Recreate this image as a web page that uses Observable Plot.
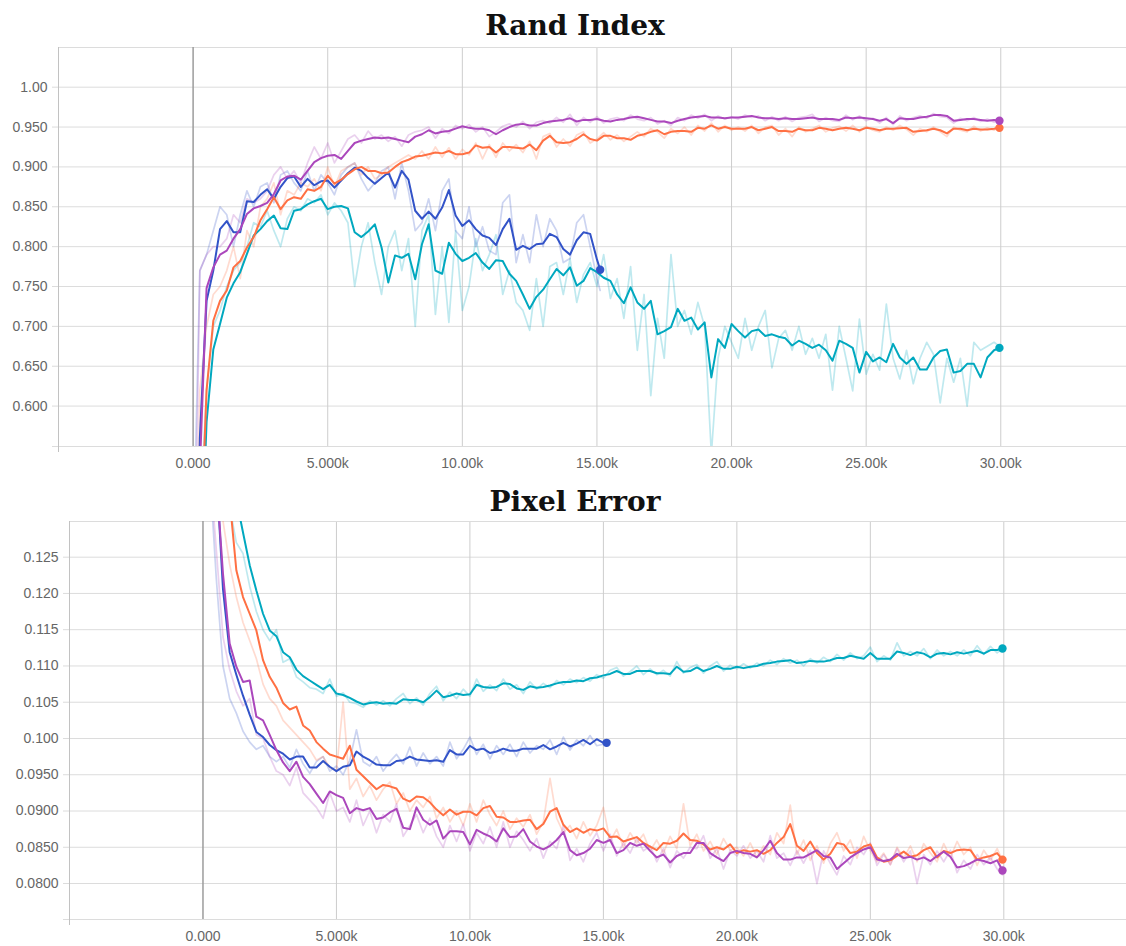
<!DOCTYPE html>
<html><head><meta charset="utf-8">
<script src="https://cdn.jsdelivr.net/npm/d3@7"></script>
<script src="https://cdn.jsdelivr.net/npm/@observablehq/plot@0.6"></script>
<style>
body{margin:0;background:#fff;width:1126px;height:946px;position:relative;overflow:hidden}
.title{position:absolute;left:0;width:1150px;text-align:center;font-family:"DejaVu Serif",serif;font-weight:bold;font-size:28px;line-height:28px;color:#111;z-index:2}
.chart{position:absolute;left:0;z-index:1}
</style></head><body>
<div class="chart" id="c1" style="top:0px"></div>
<div class="chart" id="c2" style="top:474px"></div>
<div class="title" style="top:12px">Rand Index</div>
<div class="title" style="top:488px">Pixel Error</div>
<script>
// ---------- shared step axis ----------
const steps = [
  100, 250, 500, 750, 1000, 1250, 1500, 1750, 2000, 2250,
  2500, 2750, 3000, 3250, 3500, 3750, 4000, 4250, 4500, 4750,
  5000, 5250, 5500, 5750, 6000, 6250, 6500, 6750, 7000, 7250,
  7500, 7750, 8000, 8250, 8500, 8750, 9000, 9250, 9500, 9750,
  10000, 10250, 10500, 10750, 11000, 11250, 11500, 11750, 12000, 12250,
  12500, 12750, 13000, 13250, 13500, 13750, 14000, 14250, 14500, 14750,
  15000, 15250, 15500, 15750, 16000, 16250, 16500, 16750, 17000, 17250,
  17500, 17750, 18000, 18250, 18500, 18750, 19000, 19250, 19500, 19750,
  20000, 20250, 20500, 20750, 21000, 21250, 21500, 21750, 22000, 22250,
  22500, 22750, 23000, 23250, 23500, 23750, 24000, 24250, 24500, 24750,
  25000, 25250, 25500, 25750, 26000, 26250, 26500, 26750, 27000, 27250,
  27500, 27750, 28000, 28250, 28500, 28750, 29000, 29250, 29500, 29750,
  29950
];
const blueEndStep = 15120;
const xTicks = [0, 5000, 10000, 15000, 20000, 25000, 30000];
const xTickLabels = ["0.000", "5.000k", "10.00k", "15.00k", "20.00k", "25.00k", "30.00k"];

// ---------- Rand Index ----------
const riYTicks = [0.6, 0.65, 0.7, 0.75, 0.8, 0.85, 0.9, 0.95, 1.0];
const riYLabels = ["0.600", "0.650", "0.700", "0.750", "0.800", "0.850", "0.900", "0.950", "1.00"];

const riPurple = [
  0.30, 0.52, 0.748, 0.774, 0.790, 0.795, 0.810, 0.822, 0.841, 0.848,
  0.851, 0.855, 0.866, 0.883, 0.888, 0.889, 0.884, 0.895, 0.906, 0.911,
  0.914, 0.915, 0.910, 0.920, 0.930, 0.933, 0.935, 0.937, 0.936, 0.937,
  0.935, 0.933, 0.931, 0.938, 0.941, 0.946, 0.942, 0.944, 0.945, 0.948,
  0.951, 0.949, 0.948, 0.948, 0.946, 0.941, 0.946, 0.950, 0.953, 0.954,
  0.952, 0.952, 0.955, 0.957, 0.958, 0.959, 0.961, 0.957, 0.959, 0.959,
  0.960, 0.958, 0.957, 0.959, 0.960, 0.962, 0.963, 0.961, 0.959, 0.957,
  0.957, 0.955, 0.958, 0.960, 0.962, 0.963, 0.964, 0.962, 0.962, 0.961,
  0.962, 0.962, 0.963, 0.964, 0.962, 0.961, 0.961, 0.960, 0.961, 0.960,
  0.960, 0.961, 0.962, 0.960, 0.960, 0.960, 0.959, 0.962, 0.961, 0.962,
  0.961, 0.960, 0.958, 0.960, 0.955, 0.961, 0.960, 0.960, 0.962, 0.963,
  0.965, 0.965, 0.964, 0.958, 0.959, 0.960, 0.960, 0.959, 0.958, 0.959,
  0.958
];
const riPurpleRaw = [
  0.45, 0.77, 0.79, 0.80, 0.80, 0.81, 0.84, 0.83, 0.86, 0.855,
  0.86, 0.87, 0.89, 0.90, 0.885, 0.895, 0.88, 0.905, 0.925, 0.91,
  0.93, 0.905, 0.92, 0.935, 0.94, 0.93, 0.945, 0.935, 0.94, 0.932,
  0.938, 0.926, 0.94, 0.944, 0.946, 0.95, 0.936, 0.948, 0.942, 0.952,
  0.948, 0.953, 0.944, 0.950, 0.938, 0.944, 0.951, 0.954, 0.950, 0.957,
  0.948, 0.956, 0.958, 0.955, 0.962, 0.956, 0.966, 0.952, 0.962, 0.956,
  0.963, 0.955, 0.960, 0.962, 0.958, 0.965, 0.960, 0.958, 0.962, 0.954,
  0.958, 0.952, 0.962, 0.958, 0.965, 0.961, 0.966, 0.958, 0.964, 0.960,
  0.963, 0.960, 0.965, 0.962, 0.964, 0.958, 0.963, 0.958, 0.963, 0.957,
  0.962, 0.963, 0.966, 0.957, 0.962, 0.958, 0.957, 0.965, 0.959, 0.964,
  0.958, 0.961, 0.955, 0.962, 0.953, 0.964, 0.958, 0.962, 0.964, 0.961,
  0.967, 0.963, 0.962, 0.955, 0.961, 0.958, 0.962, 0.957, 0.960, 0.956,
  0.958
];
const riOrange = [
  0.25, 0.40, 0.62, 0.707, 0.732, 0.745, 0.774, 0.782, 0.799, 0.812,
  0.833, 0.847, 0.862, 0.847, 0.858, 0.862, 0.860, 0.872, 0.870, 0.875,
  0.889, 0.879, 0.884, 0.891, 0.897, 0.900, 0.895, 0.895, 0.892, 0.893,
  0.900, 0.906, 0.909, 0.913, 0.914, 0.916, 0.918, 0.917, 0.920, 0.916,
  0.916, 0.918, 0.927, 0.924, 0.925, 0.918, 0.925, 0.925, 0.924, 0.923,
  0.928, 0.921, 0.933, 0.939, 0.931, 0.930, 0.931, 0.935, 0.941, 0.935,
  0.933, 0.939, 0.939, 0.936, 0.936, 0.934, 0.939, 0.941, 0.944, 0.946,
  0.941, 0.944, 0.945, 0.945, 0.944, 0.949, 0.948, 0.952, 0.948, 0.950,
  0.948, 0.948, 0.948, 0.950, 0.946, 0.948, 0.950, 0.945, 0.945, 0.944,
  0.948, 0.946, 0.946, 0.949, 0.948, 0.946, 0.948, 0.949, 0.948, 0.946,
  0.949, 0.948, 0.946, 0.948, 0.948, 0.9485, 0.949, 0.944, 0.945, 0.946,
  0.948, 0.946, 0.942, 0.948, 0.948, 0.946, 0.948, 0.947, 0.947, 0.948,
  0.949
];
const riOrangeRaw = [
  0.30, 0.62, 0.70, 0.74, 0.75, 0.77, 0.80, 0.76, 0.82, 0.80,
  0.85, 0.86, 0.88, 0.84, 0.87, 0.865, 0.88, 0.875, 0.885, 0.87,
  0.90, 0.875, 0.895, 0.90, 0.905, 0.89, 0.90, 0.885, 0.89, 0.90,
  0.905, 0.91, 0.915, 0.91, 0.92, 0.91, 0.925, 0.912, 0.924, 0.91,
  0.922, 0.915, 0.93, 0.91, 0.928, 0.912, 0.93, 0.92, 0.928, 0.918,
  0.932, 0.91, 0.938, 0.942, 0.925, 0.935, 0.926, 0.94, 0.944, 0.93,
  0.935, 0.943, 0.934, 0.94, 0.932, 0.938, 0.944, 0.938, 0.948, 0.944,
  0.936, 0.948, 0.942, 0.95, 0.94, 0.952, 0.945, 0.955, 0.944, 0.952,
  0.946, 0.95, 0.945, 0.952, 0.942, 0.95, 0.952, 0.94, 0.948, 0.938,
  0.95, 0.944, 0.948, 0.952, 0.944, 0.949, 0.951, 0.945, 0.952, 0.944,
  0.951, 0.946, 0.944, 0.95, 0.946, 0.952, 0.947, 0.940, 0.948, 0.944,
  0.95, 0.944, 0.938, 0.95, 0.946, 0.944, 0.951, 0.945, 0.949, 0.946,
  0.951
];
const riBlue = [
  0.30, 0.56, 0.732, 0.770, 0.822, 0.832, 0.818, 0.818, 0.857, 0.856,
  0.865, 0.872, 0.860, 0.875, 0.886, 0.888, 0.875, 0.885, 0.877, 0.882,
  0.883, 0.874, 0.883, 0.892, 0.899, 0.895, 0.886, 0.879, 0.886, 0.893,
  0.874, 0.895, 0.884, 0.845, 0.835, 0.844, 0.835, 0.849, 0.871, 0.839,
  0.826, 0.833, 0.822, 0.814, 0.811, 0.802, 0.822, 0.835, 0.796, 0.801,
  0.797, 0.803, 0.804, 0.816, 0.812, 0.797, 0.790, 0.808, 0.818, 0.816,
  0.784, 0.771
];
const riBlueRaw = [
  0.55, 0.77, 0.79, 0.82, 0.85, 0.84, 0.80, 0.84, 0.87, 0.85,
  0.875, 0.88, 0.855, 0.89, 0.895, 0.88, 0.87, 0.895, 0.87, 0.89,
  0.88, 0.865, 0.89, 0.90, 0.905, 0.885, 0.87, 0.88, 0.895, 0.90,
  0.86, 0.905, 0.87, 0.82, 0.83, 0.86, 0.82, 0.87, 0.885, 0.82,
  0.81, 0.85, 0.80, 0.825, 0.795, 0.79, 0.855, 0.865, 0.78, 0.815,
  0.78, 0.84, 0.80, 0.835, 0.82, 0.78, 0.785, 0.83, 0.84, 0.80,
  0.76, 0.745
];
const riTeal = [
  0.25, 0.35, 0.58, 0.671, 0.703, 0.736, 0.754, 0.768, 0.791, 0.814,
  0.822, 0.832, 0.839, 0.823, 0.822, 0.845, 0.847, 0.853, 0.857, 0.860,
  0.847, 0.850, 0.851, 0.848, 0.818, 0.812, 0.819, 0.828, 0.799, 0.755,
  0.789, 0.786, 0.791, 0.759, 0.803, 0.828, 0.770, 0.766, 0.805, 0.791,
  0.782, 0.786, 0.792, 0.780, 0.772, 0.783, 0.782, 0.766, 0.757, 0.740,
  0.722, 0.737, 0.746, 0.759, 0.772, 0.764, 0.774, 0.751, 0.757, 0.773,
  0.768, 0.761, 0.757, 0.740, 0.729, 0.749, 0.730, 0.722, 0.732, 0.690,
  0.694, 0.699, 0.722, 0.707, 0.711, 0.696, 0.705, 0.636, 0.684, 0.673,
  0.703, 0.694, 0.686, 0.694, 0.696, 0.688, 0.690, 0.687, 0.685, 0.676,
  0.682, 0.678, 0.673, 0.677, 0.670, 0.657, 0.682, 0.678, 0.673, 0.642,
  0.668, 0.656, 0.661, 0.655, 0.678, 0.661, 0.653, 0.661, 0.646, 0.646,
  0.661, 0.669, 0.671, 0.642, 0.644, 0.653, 0.653, 0.636, 0.661, 0.670,
  0.673
];
const riTealRaw = [
  0.35, 0.45, 0.62, 0.70, 0.72, 0.75, 0.77, 0.78, 0.80, 0.83,
  0.825, 0.845, 0.82, 0.80, 0.835, 0.85, 0.845, 0.86, 0.855, 0.865,
  0.84, 0.855, 0.845, 0.83, 0.75, 0.80, 0.83, 0.78, 0.74, 0.80,
  0.82, 0.77, 0.81, 0.70, 0.82, 0.84, 0.715, 0.80, 0.705, 0.82,
  0.72, 0.75, 0.81, 0.77, 0.79, 0.815, 0.74, 0.77, 0.73, 0.72,
  0.695, 0.76, 0.70, 0.775, 0.78, 0.74, 0.785, 0.73, 0.765, 0.78,
  0.75, 0.79, 0.735, 0.76, 0.71, 0.775, 0.67, 0.74, 0.613, 0.71,
  0.66, 0.79, 0.70, 0.72, 0.69, 0.73, 0.70, 0.54, 0.66, 0.70,
  0.68, 0.66, 0.71, 0.67, 0.70, 0.72, 0.648, 0.685, 0.695, 0.67,
  0.70, 0.665, 0.685, 0.66, 0.69, 0.62, 0.70, 0.66, 0.619, 0.709,
  0.64, 0.665, 0.645, 0.728, 0.66, 0.634, 0.67, 0.628, 0.66, 0.68,
  0.665, 0.604, 0.66, 0.63, 0.66, 0.60, 0.68, 0.67, 0.675, 0.68,
  0.675
];

// ---------- Pixel Error ----------
const peYTicks = [0.08, 0.085, 0.09, 0.095, 0.1, 0.105, 0.11, 0.115, 0.12, 0.125];
const peYLabels = ["0.0800", "0.0850", "0.0900", "0.0950", "0.100", "0.105", "0.110", "0.115", "0.120", "0.125"];

const pePurple = [
  0.160, 0.150, 0.136, 0.1227, 0.1131, 0.1099, 0.1078, 0.1080, 0.1030, 0.1025,
  0.1005, 0.0984, 0.0967, 0.0955, 0.0968, 0.0947, 0.0937, 0.0924, 0.0911, 0.0927,
  0.0922, 0.0918, 0.0897, 0.0904, 0.0901, 0.0904, 0.0889, 0.0891, 0.0898, 0.0903,
  0.0877, 0.0875, 0.0905, 0.0888, 0.0881, 0.0887, 0.0862, 0.0872, 0.0872, 0.0871,
  0.0854, 0.0874, 0.0869, 0.0865, 0.0858, 0.0876, 0.0864, 0.0865, 0.0875, 0.0858,
  0.0851, 0.0847, 0.0852, 0.0860, 0.0871, 0.0846, 0.0839, 0.0842, 0.0848, 0.0860,
  0.0856, 0.0860, 0.0842, 0.0846, 0.0856, 0.0852, 0.0855, 0.0845, 0.0836, 0.0840,
  0.0829, 0.0838, 0.0842, 0.0842, 0.0856, 0.0856, 0.0842, 0.0836, 0.0831, 0.0842,
  0.0845, 0.0842, 0.0841, 0.0836, 0.0846, 0.0859, 0.0842, 0.0833, 0.0833, 0.0836,
  0.0836, 0.0841, 0.0846, 0.0838, 0.0836, 0.0820, 0.0828, 0.0836, 0.0842, 0.0847,
  0.0850, 0.0833, 0.0831, 0.0833, 0.0841, 0.0835, 0.0837, 0.0833, 0.0836, 0.0831,
  0.0838, 0.0844, 0.0837, 0.0822, 0.0824, 0.0828, 0.0833, 0.0831, 0.0828, 0.0832,
  0.0818
];
const pePurpleRaw = [
  0.150, 0.138, 0.126, 0.114, 0.1095, 0.1065, 0.1045, 0.1055, 0.1005, 0.1000,
  0.0975, 0.0955, 0.0950, 0.0935, 0.0960, 0.0925, 0.0915, 0.0905, 0.0890, 0.0925,
  0.0900, 0.0905, 0.0885, 0.0915, 0.0880, 0.0900, 0.0870, 0.0895, 0.0885, 0.0910,
  0.0865, 0.0880, 0.0895, 0.0870, 0.0890, 0.0865, 0.0850, 0.0880, 0.0858, 0.0882,
  0.0845, 0.0870, 0.0855, 0.0878, 0.0850, 0.0885, 0.0850, 0.0872, 0.0860, 0.0845,
  0.0862, 0.0835, 0.0858, 0.0848, 0.0880, 0.0832, 0.0848, 0.0830, 0.0855, 0.0870,
  0.0845, 0.0868, 0.0838, 0.0856, 0.0842, 0.0862, 0.0845, 0.0852, 0.0830, 0.0848,
  0.0822, 0.0845, 0.0835, 0.0850, 0.0848, 0.0866, 0.0835, 0.0848, 0.0820, 0.0846,
  0.0838, 0.0852, 0.0835, 0.0845, 0.0830, 0.0866, 0.0835, 0.0842, 0.0825, 0.0845,
  0.0828, 0.0846, 0.0800, 0.0845, 0.0828, 0.0812, 0.0838, 0.0826, 0.0850, 0.0840,
  0.0856, 0.0825, 0.0840, 0.0826, 0.0848, 0.0830, 0.0845, 0.0800, 0.0840, 0.0826,
  0.0845, 0.0830, 0.0846, 0.0815, 0.0832, 0.0820, 0.0840, 0.0826, 0.0836, 0.0820,
  0.0812
];
const peOrange = [
  0.170, 0.160, 0.150, 0.140, 0.133, 0.1232, 0.1195, 0.1172, 0.1149, 0.1108,
  0.1085, 0.1070, 0.1049, 0.1040, 0.1044, 0.1018, 0.1011, 0.0995, 0.0986, 0.0978,
  0.0975, 0.0972, 0.0990, 0.0957, 0.0948, 0.0939, 0.0930, 0.0936, 0.0934, 0.0931,
  0.0917, 0.0913, 0.0920, 0.0919, 0.0912, 0.0902, 0.0894, 0.0902, 0.0895, 0.0899,
  0.0899, 0.0894, 0.0904, 0.0907, 0.0892, 0.0891, 0.0885, 0.0885, 0.0887, 0.0888,
  0.0875, 0.0882, 0.0899, 0.0904, 0.0881, 0.0871, 0.0876, 0.0870, 0.0875, 0.0873,
  0.0876, 0.0864, 0.0865, 0.0858, 0.0861, 0.0864, 0.0856, 0.0851, 0.0846, 0.0856,
  0.0855, 0.0859, 0.0869, 0.0860, 0.0859, 0.0854, 0.0847, 0.0850, 0.0847, 0.0854,
  0.0842, 0.0846, 0.0844, 0.0846, 0.0841, 0.0846, 0.0856, 0.0864, 0.0882, 0.0852,
  0.0845, 0.0858, 0.0842, 0.0833, 0.0841, 0.0856, 0.0854, 0.0842, 0.0844, 0.0851,
  0.0854, 0.0836, 0.0830, 0.0832, 0.0838, 0.0844, 0.0837, 0.0839, 0.0846, 0.0850,
  0.0836, 0.0845, 0.0842, 0.0846, 0.0847, 0.0846, 0.0833, 0.0836, 0.0838, 0.0842,
  0.0833
];
const peOrangeRaw = [
  0.160, 0.150, 0.140, 0.130, 0.124, 0.1195, 0.1160, 0.1135, 0.1110, 0.1075,
  0.1055, 0.1045, 0.1025, 0.1015, 0.1005, 0.0995, 0.0985, 0.0970, 0.0975, 0.0960,
  0.0955, 0.1050, 0.0930, 0.0945, 0.0920, 0.0935, 0.0915, 0.0930, 0.0940, 0.0910,
  0.0925, 0.0900, 0.0915, 0.0905, 0.0920, 0.0890, 0.0905, 0.0885, 0.0900, 0.0880,
  0.0910, 0.0885, 0.0915, 0.0895, 0.0880, 0.0900, 0.0875, 0.0890, 0.0878, 0.0895,
  0.0868, 0.0885, 0.0945, 0.0890, 0.0870, 0.0880, 0.0862, 0.0885, 0.0866, 0.0880,
  0.0905, 0.0858, 0.0875, 0.0850, 0.0870, 0.0856, 0.0868, 0.0845, 0.0860, 0.0842,
  0.0865, 0.0848, 0.0910, 0.0852, 0.0868, 0.0845, 0.0858, 0.0840, 0.0862, 0.0846,
  0.0850, 0.0838, 0.0856, 0.0836, 0.0852, 0.0840, 0.0870, 0.0855, 0.0908, 0.0840,
  0.0860, 0.0832, 0.0852, 0.0828, 0.0855, 0.0870, 0.0845, 0.0860, 0.0835, 0.0865,
  0.0845, 0.0830, 0.0842, 0.0826, 0.0850, 0.0835, 0.0852, 0.0830, 0.0855, 0.0842,
  0.0830, 0.0855, 0.0836, 0.0858, 0.0840, 0.0850, 0.0825, 0.0846, 0.0832, 0.0848,
  0.0832
];
const peBlue = [
  0.160, 0.150, 0.137, 0.1206, 0.1119, 0.1088, 0.1059, 0.1033, 0.1009, 0.1002,
  0.0991, 0.0984, 0.0979, 0.0971, 0.0975, 0.0975, 0.0960, 0.0960, 0.0969, 0.0961,
  0.0955, 0.0961, 0.0963, 0.0982, 0.0975, 0.0970, 0.0964, 0.0963, 0.0963, 0.0969,
  0.0970, 0.0975, 0.0971, 0.0970, 0.0969, 0.0970, 0.0968, 0.0984, 0.0978, 0.0978,
  0.0990, 0.0984, 0.0986, 0.0980, 0.0982, 0.0986, 0.0983, 0.0983, 0.0986, 0.0986,
  0.0986, 0.0991, 0.0985, 0.0989, 0.0994, 0.0989, 0.0993, 0.0998, 0.0992, 0.0999,
  0.0994, 0.0994
];
const peBlueRaw = [
  0.150, 0.137, 0.122, 0.110, 0.1055, 0.1035, 0.1010, 0.0995, 0.0985, 0.0990,
  0.0975, 0.0968, 0.0975, 0.0960, 0.0985, 0.0965, 0.0952, 0.0968, 0.0975, 0.0955,
  0.0962, 0.0950, 0.0970, 0.1012, 0.0968, 0.0962, 0.0975, 0.0955, 0.0968, 0.0978,
  0.0965, 0.0988, 0.0962, 0.0980, 0.0965, 0.0975, 0.0962, 0.0995, 0.0972, 0.0985,
  0.1002, 0.0978, 0.0992, 0.0972, 0.0990, 0.0978, 0.0992, 0.0975, 0.0995, 0.0980,
  0.0990, 0.0985, 0.0998, 0.0978, 0.1002, 0.0984, 0.0998, 0.0990, 0.1004, 0.0990,
  0.0992, 0.0994
];
const peTeal = [
  0.175, 0.165, 0.155, 0.146, 0.139, 0.133, 0.1284, 0.1239, 0.1204, 0.1172,
  0.1149, 0.1141, 0.1119, 0.1112, 0.1095, 0.1086, 0.1080, 0.1074, 0.1068, 0.1074,
  0.1062, 0.1060, 0.1056, 0.1051, 0.1047, 0.1049, 0.1050, 0.1048, 0.1049, 0.1048,
  0.1054, 0.1053, 0.1053, 0.1050, 0.1057, 0.1066, 0.1057, 0.1059, 0.1062, 0.1060,
  0.1061, 0.1074, 0.1071, 0.1070, 0.1071, 0.1076, 0.1075, 0.1069, 0.1067, 0.1072,
  0.1070, 0.1071, 0.1073, 0.1076, 0.1078, 0.1078, 0.1080, 0.1079, 0.1083, 0.1084,
  0.1087, 0.1089, 0.1093, 0.1089, 0.1089, 0.1093, 0.1093, 0.1093, 0.1090, 0.1090,
  0.1089, 0.1099, 0.1092, 0.1093, 0.1098, 0.1093, 0.1096, 0.1100, 0.1096, 0.1096,
  0.1099, 0.1097, 0.1099, 0.1100, 0.1103, 0.1104, 0.1106, 0.1107, 0.1108, 0.1104,
  0.1105, 0.1107, 0.1106, 0.1106, 0.1108, 0.1111, 0.1111, 0.1114, 0.1112, 0.1110,
  0.1118, 0.1110, 0.1110, 0.1110, 0.1120, 0.1118, 0.1115, 0.1119, 0.1117, 0.1112,
  0.1117, 0.1118, 0.1116, 0.1119, 0.1117, 0.1119, 0.1121, 0.1117, 0.1122, 0.1122,
  0.1124
];
const peTealRaw = [
  0.165, 0.155, 0.146, 0.138, 0.132, 0.127, 0.1255, 0.1210, 0.1175, 0.1150,
  0.1135, 0.1150, 0.1105, 0.1110, 0.1085, 0.1078, 0.1070, 0.1068, 0.1062, 0.1082,
  0.1058, 0.1063, 0.1050, 0.1048, 0.1043, 0.1052, 0.1046, 0.1052, 0.1045, 0.1055,
  0.1062, 0.1048, 0.1056, 0.1046, 0.1062, 0.1072, 0.1052, 0.1064, 0.1055, 0.1068,
  0.1058, 0.1082, 0.1065, 0.1074, 0.1066, 0.1082, 0.1068, 0.1074, 0.1062, 0.1078,
  0.1068, 0.1076, 0.1070, 0.1080, 0.1074, 0.1082, 0.1077, 0.1084, 0.1079, 0.1088,
  0.1083, 0.1094, 0.1098, 0.1086, 0.1092, 0.1100, 0.1088, 0.1096, 0.1088, 0.1094,
  0.1086, 0.1106, 0.1090, 0.1098, 0.1102, 0.1090, 0.1100, 0.1106, 0.1093, 0.1101,
  0.1096, 0.1103, 0.1097, 0.1104, 0.1100, 0.1108, 0.1102, 0.1110, 0.1104, 0.1108,
  0.1100, 0.1110, 0.1104, 0.1112, 0.1106, 0.1116, 0.1108, 0.1118, 0.1110, 0.1114,
  0.1126, 0.1106, 0.1114, 0.1108, 0.1132, 0.1114, 0.1120, 0.1114, 0.1124, 0.1110,
  0.1122, 0.1114, 0.1120, 0.1114, 0.1122, 0.1114, 0.1128, 0.1116, 0.1127, 0.1118,
  0.1124
];

// ---------- colours ----------
const colPurple = "#ab47bc", colOrange = "#ff7043", colBlue = "#3253c8", colTeal = "#00a8bf";

// ---------- helpers ----------
function toRows(values, isBlue) {
  const n = values.length;
  return values.map((v, i) => ({
    step: isBlue && i === n - 1 ? blueEndStep : steps[i],
    v
  }));
}

function makeChart(o) {
  const yFmt = new Map(o.yTicks.map((t, i) => [t, o.yLabels[i]]));
  const xFmt = new Map(xTicks.map((t, i) => [t, xTickLabels[i]]));
  const gridCol = "#dcdcdc";
  const marks = [
    Plot.gridY(o.yTicks, {stroke: gridCol, strokeOpacity: 1}),
    Plot.gridX(xTicks.filter(d => d !== 0), {stroke: "#cdcdcd", strokeOpacity: 1}),
    Plot.ruleY([o.yDomain[0], o.yDomain[1]], {stroke: gridCol}),
    Plot.ruleX([o.xDomain[0]], {stroke: "#c2c2c2"}),
    Plot.ruleX([0], {stroke: "#9c9c9c", strokeWidth: 1.5}),
    Plot.axisY(o.yTicks, {anchor: "left", tickSize: 6, tickPadding: 5, stroke: gridCol, fill: "#666", fontSize: 14, label: null, tickFormat: d => yFmt.get(d)}),
    Plot.axisY([o.yDomain[0]], {anchor: "left", tickSize: 6, stroke: gridCol, label: null, tickFormat: () => ""}),
    Plot.axisX([o.xDomain[0]], {anchor: "bottom", tickSize: 6, stroke: "#c2c2c2", label: null, tickFormat: () => ""}),
    Plot.axisX(xTicks, {anchor: "bottom", tickSize: 0, tickPadding: 12, fill: "#666", fontSize: 14, label: null, tickFormat: d => xFmt.get(d)})
  ];
  for (const s of o.series) {
    marks.push(Plot.line(toRows(s.raw, s.blue), {x: "step", y: "v", stroke: s.color, strokeOpacity: 0.25, strokeWidth: 1.7, clip: true}));
  }
  for (const s of o.series) {
    marks.push(Plot.line(toRows(s.values, s.blue), {x: "step", y: "v", stroke: s.color, strokeWidth: 2, clip: true}));
  }
  for (const s of o.series) {
    const rows = toRows(s.values, s.blue);
    marks.push(Plot.dot([rows[rows.length - 1]], {x: "step", y: "v", fill: s.color, r: 4.2}));
  }
  return Plot.plot({
    width: 1126,
    height: o.height,
    marginLeft: o.marginLeft,
    marginRight: 0,
    marginTop: o.marginTop,
    marginBottom: o.marginBottom,
    x: {domain: o.xDomain, axis: null, label: null},
    y: {domain: o.yDomain, axis: null, label: null},
    style: {background: "transparent", fontFamily: "'Liberation Sans', Arial, sans-serif", fontSize: "14px", overflow: "visible"},
    marks
  });
}

document.getElementById("c1").append(makeChart({
  height: 480, marginLeft: 58, marginTop: 47, marginBottom: 34,
  xDomain: [-5000, 34670], yDomain: [0.5493, 1.0498],
  yTicks: riYTicks, yLabels: riYLabels,
  series: [
    {values: riTeal, raw: riTealRaw, color: colTeal},
    {values: riBlue, raw: riBlueRaw, color: colBlue, blue: true},
    {values: riOrange, raw: riOrangeRaw, color: colOrange},
    {values: riPurple, raw: riPurpleRaw, color: colPurple}
  ]
}));

document.getElementById("c2").append(makeChart({
  height: 472, marginLeft: 69, marginTop: 47, marginBottom: 27,
  xDomain: [-5000, 34596], yDomain: [0.07504, 0.12992],
  yTicks: peYTicks, yLabels: peYLabels,
  series: [
    {values: peTeal, raw: peTealRaw, color: colTeal},
    {values: peBlue, raw: peBlueRaw, color: colBlue, blue: true},
    {values: peOrange, raw: peOrangeRaw, color: colOrange},
    {values: pePurple, raw: pePurpleRaw, color: colPurple}
  ]
}));
</script>
</body></html>
